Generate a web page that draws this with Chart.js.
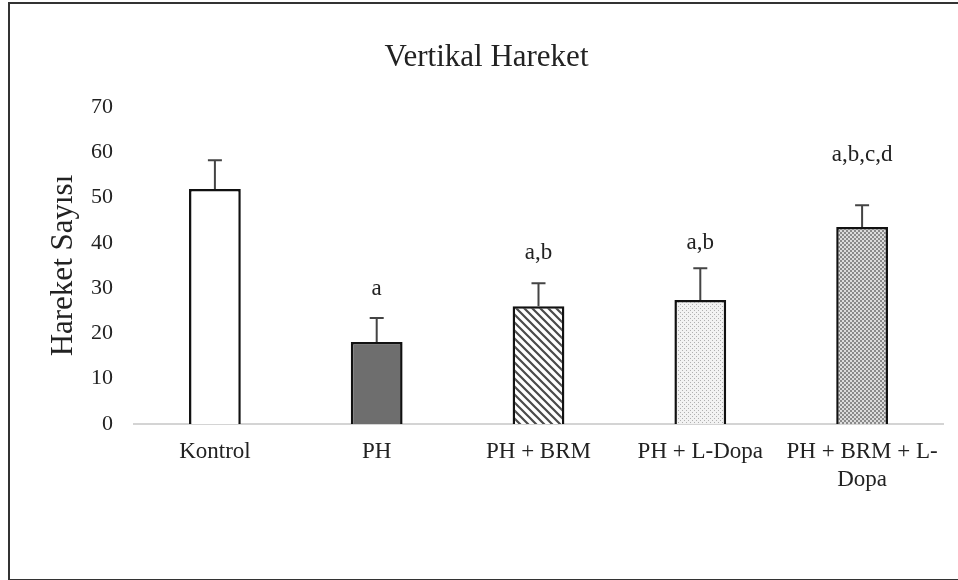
<!DOCTYPE html>
<html>
<head>
<meta charset="utf-8">
<script src="https://cdn.jsdelivr.net/npm/chart.js@4"></script>
<style>
    body { margin: 0; background: #fff; }
    #wrap { position: relative; width: 958px; height: 580px; overflow: hidden; }
    #frame { position: absolute; left: 8px; top: 2px; width: 960px; height: 575px; border: 2px solid #333; }
    #myChart { position: absolute; left: 0; top: 0; }
</style>
</head>
<body>
<div id="wrap">
    <div id="frame"></div>
    <canvas id="myChart" width="958" height="580"></canvas>
</div>

<script>
    var groups = ['Kontrol', 'PH', 'PH + BRM', 'PH + L-Dopa', ['PH + BRM + L-', 'Dopa']];
    var means = [51.9, 18.1, 26.0, 27.4, 43.5];
    var sds = [6.4, 5.3, 5.1, 7.0, 4.8];
    var letters = ['', 'a', 'a,b', 'a,b', 'a,b,c,d'];
    var yTicks = [0, 10, 20, 30, 40, 50, 60, 70];

    var serif = '"Liberation Serif", "Times New Roman", serif';

    function tile(w, h, paint) {
        var c = document.createElement('canvas');
        c.width = w; c.height = h;
        var g = c.getContext('2d');
        paint(g);
        return g.createPattern(c, 'repeat');
    }

    // "\" hatching
    var hatch = tile(8, 8, function (g) {
        g.fillStyle = '#fff';
        g.fillRect(0, 0, 8, 8);
        g.strokeStyle = '#4a4a4a';
        g.lineWidth = 2.2;
        g.beginPath();
        g.moveTo(-2, -2); g.lineTo(10, 10);
        g.moveTo(-2, 6); g.lineTo(2, 10);
        g.moveTo(6, -2); g.lineTo(10, 2);
        g.stroke();
    });

    // light dots
    var dotsLight = tile(4, 4, function (g) {
        g.fillStyle = '#f2f2f2';
        g.fillRect(0, 0, 4, 4);
        g.fillStyle = '#b0b0b0';
        g.fillRect(0, 0, 1, 1);
        g.fillRect(2, 2, 1, 1);
    });

    // dense dots
    var dotsDark = tile(4, 4, function (g) {
        g.fillStyle = '#dcdcdc';
        g.fillRect(0, 0, 4, 4);
        g.fillStyle = '#8a8a8a';
        g.fillRect(0, 0, 2, 2);
        g.fillRect(2, 2, 2, 2);
    });

    var errorBars = {
        id: 'errorBars',
        afterDatasetsDraw: function (chart) {
            var ctx = chart.ctx;
            var y = chart.scales.y;
            var meta = chart.getDatasetMeta(0);
            ctx.save();
            ctx.strokeStyle = '#444';
            ctx.lineWidth = 2;
            meta.data.forEach(function (bar, i) {
                var top = y.getPixelForValue(means[i] + sds[i]);
                ctx.beginPath();
                ctx.moveTo(bar.x, bar.y);
                ctx.lineTo(bar.x, top);
                ctx.moveTo(bar.x - 7, top);
                ctx.lineTo(bar.x + 7, top);
                ctx.stroke();
            });
            ctx.restore();
        }
    };

    // gaps between error bar top and the letters, as in the figure
    var letterGap = [0, 29, 30, 25, 50];
    var sigLetters = {
        id: 'sigLetters',
        afterDatasetsDraw: function (chart) {
            var ctx = chart.ctx;
            var y = chart.scales.y;
            var meta = chart.getDatasetMeta(0);
            ctx.save();
            ctx.fillStyle = '#222';
            ctx.font = '23px ' + serif;
            ctx.textAlign = 'center';
            ctx.textBaseline = 'middle';
            meta.data.forEach(function (bar, i) {
                if (!letters[i]) return;
                var top = y.getPixelForValue(means[i] + sds[i]);
                ctx.fillText(letters[i], bar.x, top - letterGap[i]);
            });
            ctx.restore();
        }
    };

    var ctx = document.getElementById('myChart').getContext('2d');
    var myChart = new Chart(ctx, {
        type: 'bar',
        data: {
            labels: groups,
            datasets: [{
                data: means,
                backgroundColor: ['#ffffff', '#6e6e6e', hatch, dotsLight, dotsDark],
                borderColor: '#111',
                borderWidth: 2.5,
                borderSkipped: 'bottom',
                barPercentage: 0.32,
                categoryPercentage: 1
            }]
        },
        options: {
            responsive: false,
            animation: false,
            devicePixelRatio: 1,
            layout: { padding: { left: 30, right: 15, top: 30, bottom: 72 } },
            plugins: {
                legend: { display: false },
                tooltip: { enabled: false },
                title: {
                    display: true,
                    text: 'Vertikal Hareket',
                    color: '#222',
                    font: { family: serif, size: 31, weight: 'normal' },
                    padding: { top: 9, bottom: 31 }
                }
            },
            scales: {
                x: {
                    grid: { display: false, drawTicks: false },
                    border: { display: true, color: '#d4d4d4', width: 2 },
                    ticks: {
                        color: '#222',
                        padding: 14,
                        maxRotation: 0,
                        autoSkip: false,
                        font: { family: serif, size: 23, lineHeight: 1.22 }
                    }
                },
                y: {
                    min: 0,
                    max: 70,
                    afterBuildTicks: function (scale) {
                        scale.ticks = yTicks.map(function (v) { return { value: v }; });
                    },
                    afterFit: function (scale) { scale.width = 104; },
                    grid: { display: false, drawTicks: false },
                    border: { display: false },
                    ticks: {
                        color: '#222',
                        padding: 21,
                        font: { family: serif, size: 22 }
                    },
                    title: {
                        display: true,
                        text: 'Hareket Sayısı',
                        color: '#222',
                        font: { family: serif, size: 31 },
                        padding: { top: 15, bottom: 0 }
                    }
                }
            }
        },
        plugins: [errorBars, sigLetters]
    });
</script>
</body>
</html>
